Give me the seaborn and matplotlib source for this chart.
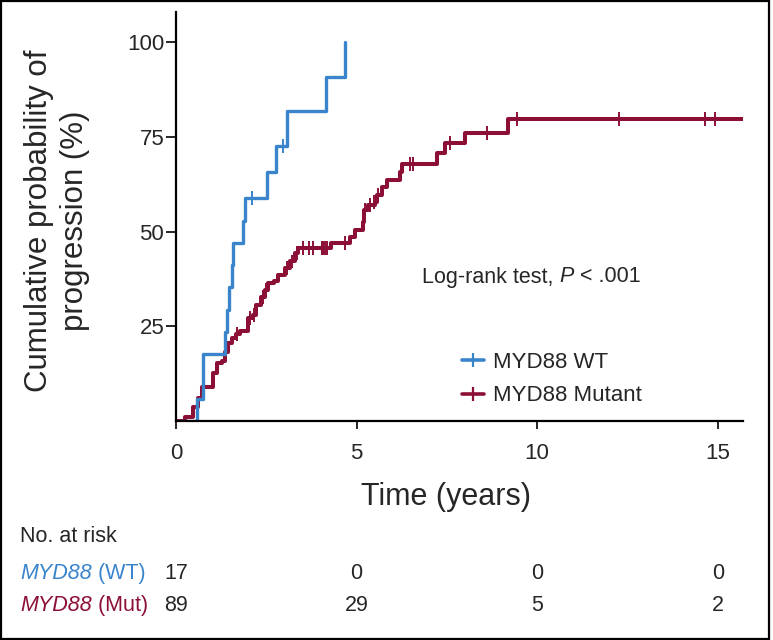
import pandas as pd
import matplotlib
matplotlib.use("Agg")
import matplotlib.pyplot as plt
import matplotlib.transforms as mtransforms
from matplotlib.lines import Line2D
from matplotlib.patches import Rectangle
import seaborn as sns

# step curves (time in years, cumulative % progression)
wt_time = [0, 0.57, 0.76, 1.36, 1.42, 1.47, 1.54, 1.58, 1.85, 1.90, 2.51, 2.77, 3.06, 4.16, 4.68]
wt_pct = [0, 5.9, 17.6, 23.5, 29.4, 35.3, 41.2, 47.1, 52.9, 58.8, 65.7, 72.5, 81.7, 90.8, 100]
wt_cens_time = [2.10, 2.97]
wt_cens_pct = [58.8, 72.5]

mut_time = [0, 0.25, 0.46, 0.62, 0.71, 1.02, 1.13, 1.27, 1.36, 1.45,
            1.54, 1.66, 1.77, 1.98, 2.12, 2.22, 2.35, 2.47, 2.56, 2.70,
            2.83, 3.02, 3.16, 3.30, 3.39, 4.28, 4.82, 4.96, 5.17, 5.21,
            5.33, 5.51, 5.56, 5.70, 5.85, 6.21, 6.25, 7.24, 7.45, 8.01,
            9.20, 15.7]
mut_pct = [0, 1.1, 3.8, 6.0, 9.1, 12.6, 15.2, 15.8, 18.3, 20.5,
           21.8, 22.9, 23.8, 27.1, 27.9, 30.6, 32.8, 34.6, 36.5, 37.0,
           38.5, 40.3, 42.1, 44.4, 45.6, 46.9, 48.6, 50.4, 52.6, 55.7,
           57.0, 57.9, 59.6, 61.8, 63.6, 65.8, 67.8, 70.7, 73.3, 76.1,
           79.6, 79.6]
mut_cens_time = [1.70, 2.05, 2.15, 2.40, 2.50, 3.08, 3.20, 3.35, 3.53, 3.67,
                 3.80, 4.04, 4.08, 4.13, 4.17, 4.67, 5.24, 5.37, 5.48, 5.60,
                 6.48, 6.56, 7.60, 8.60, 9.45, 12.27, 14.65, 14.93]
mut_cens_pct = [22.9, 27.1, 27.9, 32.8, 34.6, 40.3, 42.1, 44.4, 45.6, 45.6,
                45.6, 45.6, 45.6, 45.6, 45.6, 46.9, 55.7, 57.0, 57.9, 59.6,
                67.8, 67.8, 73.3, 76.1, 79.6, 79.6, 79.6, 79.6]

groups = ["MYD88 WT", "MYD88 Mutant"]
risk_times = [0, 5, 10, 15]
risk_wt = [17, 0, 0, 0]
risk_mut = [89, 29, 5, 2]

blue = "#3A84CC"
red = "#8C0F35"
palette = {"MYD88 WT": blue, "MYD88 Mutant": red}
widths = {"MYD88 WT": 2.4, "MYD88 Mutant": 2.9}

curves = pd.concat([
    pd.DataFrame({"time": wt_time, "pct": wt_pct, "group": groups[0]}),
    pd.DataFrame({"time": mut_time, "pct": mut_pct, "group": groups[1]}),
])
censors = pd.concat([
    pd.DataFrame({"time": wt_cens_time, "pct": wt_cens_pct, "group": groups[0]}),
    pd.DataFrame({"time": mut_cens_time, "pct": mut_cens_pct, "group": groups[1]}),
])

sns.set_style("white")
plt.rcParams["font.family"] = ["Liberation Sans", "DejaVu Sans"]

fig = plt.figure(figsize=(7.73, 6.40), dpi=100)
ax = fig.add_axes([176 / 773, 0.3422, (743 - 176) / 773, 0.6395])

for g in groups[::-1]:
    sns.lineplot(data=curves[curves.group == g], x="time", y="pct", color=palette[g],
                 estimator=None, sort=False, drawstyle="steps-post",
                 linewidth=widths[g], ax=ax)
sns.scatterplot(data=censors, x="time", y="pct", hue="group", palette=palette,
                marker="|", s=100, linewidth=1.4, legend=False, ax=ax, zorder=3)

ax.set_xlim(0, 15.7)
ax.set_ylim(0, 108)
ax.set_xticks([0, 5, 10, 15])
ax.set_yticks([25, 50, 75, 100])
for side in ["top", "right"]:
    ax.spines[side].set_visible(False)
for side in ["left", "bottom"]:
    ax.spines[side].set_linewidth(1.6)
    ax.spines[side].set_color("black")
ax.tick_params(axis="x", length=6, width=1.4, pad=10, labelsize=16, direction="out", bottom=True)
ax.tick_params(axis="y", length=7, width=1.4, pad=1.5, labelsize=16, direction="out", left=True)

ax.set_xlabel("Time (years)", fontsize=22)
ax.xaxis.set_label_coords(0.476, -0.186)
ax.xaxis.label.set_va("center")
ax.set_ylabel("Cumulative probability of\nprogression (%)", fontsize=22.5,
              ha="center", va="center", multialignment="center", linespacing=1.3)
ax.yaxis.set_label_coords((57 - 176) / 567, 0.49)

lr = ax.text(422 / 773, 1 - 277 / 640, "Log-rank test, ", transform=fig.transFigure,
             fontsize=15.5, va="center", ha="left")
lp = ax.annotate("P", xy=(1, 0), xycoords=lr, fontsize=15.5, style="italic", va="bottom", ha="left")
ax.annotate(" < .001", xy=(1, 0), xycoords=lp, fontsize=15.5, va="bottom", ha="left")

handles = [Line2D([], [], color=palette[g], lw=2.6, marker="|", markersize=10, mew=1.6) for g in groups]
ax.legend(handles, groups, loc="upper left", bbox_to_anchor=(451 / 773, 1 - 341 / 640),
          bbox_transform=fig.transFigure, frameon=False, borderpad=0, handlelength=1.0,
          handletextpad=0.4, labelspacing=0.55, prop={"size": 16})

# number at risk table
trans = mtransforms.blended_transform_factory(ax.transData, fig.transFigure)
fig.text(20 / 773, 1 - 537 / 640, "No. at risk", fontsize=15.5, va="center", ha="left")
for row_y, name, color in [(579, "(WT)", blue), (611, "(Mut)", red)]:
    t1 = fig.text(20 / 773, 1 - row_y / 640, "MYD88", fontsize=15.5, style="italic",
                  va="baseline", ha="left", color=color)
    ax.annotate(" " + name, xy=(1, 0), xycoords=t1, fontsize=15.5, va="bottom", ha="left", color=color)
for t, nw, nm in zip(risk_times, risk_wt, risk_mut):
    ax.text(t, 1 - 579 / 640, str(nw), transform=trans, fontsize=15.5, ha="center", va="baseline", clip_on=False)
    ax.text(t, 1 - 611 / 640, str(nm), transform=trans, fontsize=15.5, ha="center", va="baseline", clip_on=False)

fig.patches.append(Rectangle((1 / 773, 1 / 640), 768 / 773, 1 - 2 / 640, transform=fig.transFigure,
                             fill=False, edgecolor="black", linewidth=1.6))

fig.savefig("out.png", dpi=100)
